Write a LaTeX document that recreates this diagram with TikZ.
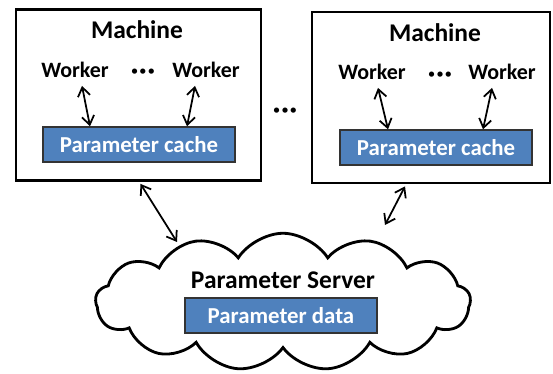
\documentclass[tikz,border=0pt]{standalone}
\usepackage{fontspec}
\setmainfont{Carlito}
\usepackage{xcolor}
\usetikzlibrary{shapes.symbols}
\usetikzlibrary{arrows.meta}
\usetikzlibrary{calc}

\definecolor{paramblue}{HTML}{4F81BD}

\newcommand{\mdots}{\textperiodcentered\kern0.5pt\textperiodcentered\kern0.5pt\textperiodcentered}

\begin{document}
\begin{tikzpicture}[x=0.02cm, y=-0.02cm,
        machine/.style={draw, line width=1.6pt, minimum width=4.9cm, minimum height=3.42cm, inner sep=0pt},
        parambox/.style={draw=black!80, fill=paramblue, text=white, line width=0.8pt,
            minimum width=3.84cm, minimum height=0.7cm, inner sep=0pt,
            font=\fontsize{13}{15}\selectfont\bfseries},
        title/.style={font=\fontsize{14.5}{17}\selectfont\bfseries},
        worker/.style={font=\fontsize{12.5}{15}\selectfont\bfseries, inner sep=1pt},
        dots/.style={font=\fontsize{16}{18}\selectfont\bfseries, inner sep=0pt},
        link/.style={{Straight Barb[length=5pt,width=7pt]}-{Straight Barb[length=5pt,width=7pt]}, line width=1pt}]
        \useasboundingbox (0, 0) rectangle (553, 374);

        \node[machine] (m1) at (138.5, 95) {};
        \node[machine, minimum width=4.76cm] (m2) at (431, 97.5) {};

        \node[title] (t1) at (137, 30) {Machine};
        \node[worker] (w11) at (75, 70) {Worker};
        \node[dots] (d1) at (143, 74) {\mdots};
        \node[worker] (w12) at (206, 70) {Worker};
        \node[parambox] (c1) at (139, 144.5) {Parameter cache};

        \node[title] (t2) at (435, 33) {Machine};
        \node[worker] (w21) at (372, 72) {Worker};
        \node[dots] (d2) at (440, 77) {\mdots};
        \node[worker] (w22) at (502, 72) {Worker};
        \node[parambox] (c2) at (436, 147.5) {Parameter cache};

        \node[dots] (dm) at (285, 113) {\mdots};

        \node[cloud, draw, line width=1.6pt, cloud puffs=13, cloud puff arc=115, aspect=2.6,
            minimum width=7.5cm, minimum height=2.75cm, inner sep=0pt] (ps) at (283, 302) {};
        \node[title] (pst) at (283, 280) {Parameter Server};
        \node[parambox] (pd) at (281, 315.5) {Parameter data};

        \draw[link] ($(w11.south)+(7, 6)$) -- ($(c1.north)+(-49, 0)$);
        \draw[link] ($(w12.south)+(-11, 6)$) -- ($(c1.north)+(48, 0)$);
        \draw[link] ($(w21.south)+(6, 6)$) -- ($(c2.north)+(-48, 0)$);
        \draw[link] ($(w22.south)+(-10, 6)$) -- ($(c2.north)+(47, 0)$);

        \draw[link] ($(m1.south)+(2, 2)$) -- ($(ps.center)+(-106, -60)$);
        \draw[link] ($(m2.south)+(-26, 2)$) -- ($(ps.center)+(102, -77)$);
    \end{tikzpicture}
\end{document}
